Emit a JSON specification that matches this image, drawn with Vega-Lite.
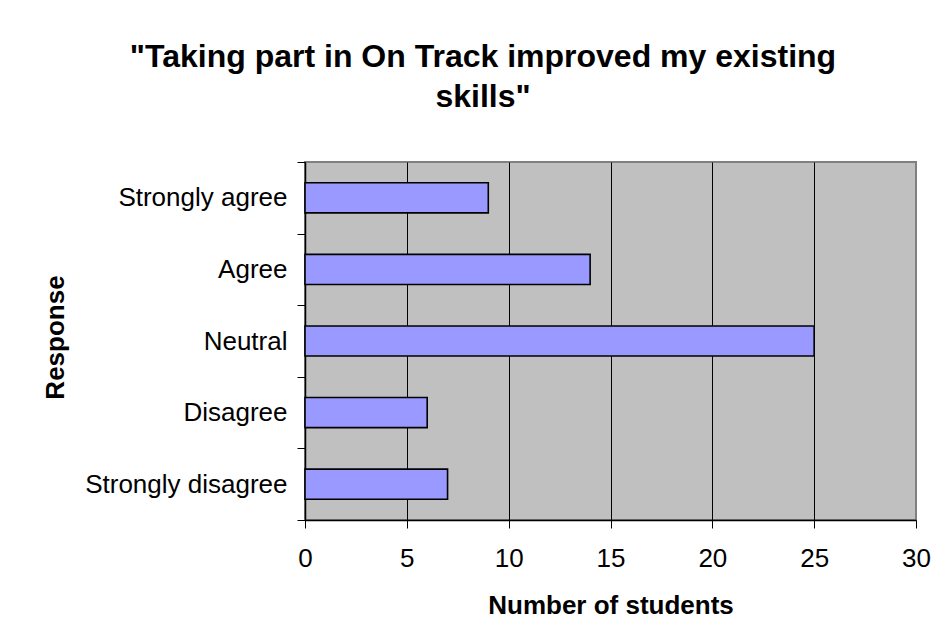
{
  "$schema": "https://vega.github.io/schema/vega-lite/v6.json",
  "width": 611,
  "height": 358,
  "autosize": {"type": "none"},
  "padding": {"left": 305, "top": 162, "right": 22, "bottom": 119},
  "background": "white",
  "title": {
    "text": ["\"Taking part in On Track improved my existing", "skills\""],
    "font": "Liberation Sans",
    "fontSize": 32,
    "fontWeight": "bold",
    "color": "black",
    "lineHeight": 40,
    "frame": "group",
    "anchor": "middle",
    "baseline": "top",
    "dx": -127.5,
    "offset": 35
  },
  "data": {
    "values": [
      {"response": "Strongly agree", "students": 9},
      {"response": "Agree", "students": 14},
      {"response": "Neutral", "students": 25},
      {"response": "Disagree", "students": 6},
      {"response": "Strongly disagree", "students": 7}
    ]
  },
  "mark": {
    "type": "bar",
    "color": "#9999FF",
    "stroke": "black",
    "strokeWidth": 1.6,
    "height": {"band": 0.42}
  },
  "encoding": {
    "y": {
      "field": "response",
      "type": "nominal",
      "sort": ["Strongly agree", "Agree", "Neutral", "Disagree", "Strongly disagree"],
      "scale": {"paddingInner": 0, "paddingOuter": 0},
      "axis": {
        "title": "Response",
        "grid": false,
        "tickBand": "extent",
        "tickSize": 8,
        "tickColor": "black",
        "tickWidth": 1,
        "domainColor": "black",
        "domainWidth": 1.5,
        "labelFont": "Liberation Sans",
        "labelFontSize": 26,
        "labelColor": "black",
        "labelPadding": 10,
        "labelLimit": 300,
        "titleFont": "Liberation Sans",
        "titleFontSize": 26,
        "titleFontWeight": "bold",
        "titleColor": "black",
        "titleAngle": 270,
        "titleAlign": "center",
        "titleBaseline": "alphabetic",
        "titleX": -242,
        "titleY": 175
      }
    },
    "x": {
      "field": "students",
      "type": "quantitative",
      "scale": {"domain": [0, 30], "nice": false},
      "axis": {
        "title": "Number of students",
        "values": [0, 5, 10, 15, 20, 25, 30],
        "grid": true,
        "gridColor": {"condition": {"test": "datum.value == 30", "value": "#808080"}, "value": "black"},
        "gridWidth": 1,
        "gridOpacity": 1,
        "tickSize": 8,
        "tickColor": "black",
        "domainColor": "black",
        "domainWidth": 1.5,
        "labelFont": "Liberation Sans",
        "labelFontSize": 26,
        "labelColor": "black",
        "labelPadding": 17,
        "labelFlush": false,
        "labelOverlap": false,
        "titleFont": "Liberation Sans",
        "titleFontSize": 26,
        "titleFontWeight": "bold",
        "titleColor": "black",
        "titleBaseline": "alphabetic",
        "titleY": 93
      }
    }
  },
  "config": {
    "view": {"fill": "#C0C0C0", "stroke": "#808080", "strokeWidth": 2}
  }
}
